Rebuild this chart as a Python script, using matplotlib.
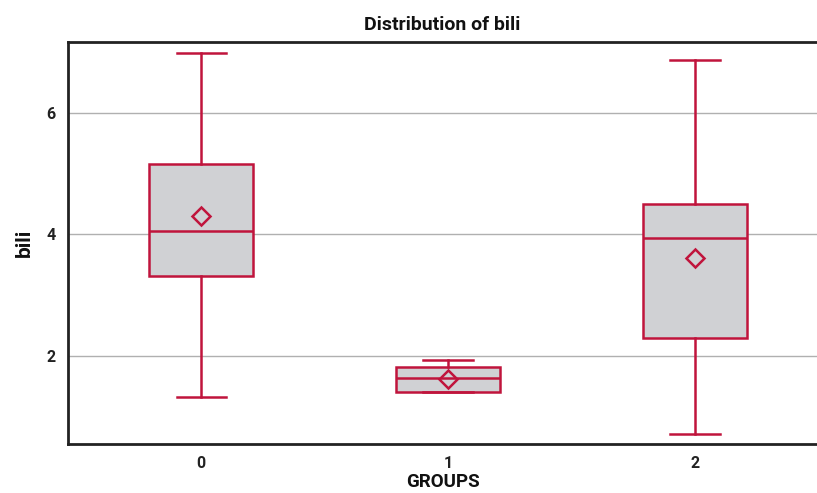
import matplotlib
matplotlib.use("Agg")
import matplotlib.pyplot as plt

plt.rcParams['font.family'] = ['Roboto', 'DejaVu Sans']

groups = ["0", "1", "2"]
whislo = [1.33, 1.41, 0.72]
q1 = [3.31, 1.41, 2.30]
med = [4.05, 1.64, 3.95]
q3 = [5.16, 1.82, 4.51]
whishi = [6.99, 1.93, 6.87]
means = [4.31, 1.62, 3.61]

RED = "#C0143C"
FILL = "#D0D1D4"

stats = []
for i, g in enumerate(groups):
    stats.append(dict(label=g, whislo=whislo[i], q1=q1[i], med=med[i],
                      q3=q3[i], whishi=whishi[i], mean=means[i]))

fig = plt.figure(figsize=(8.17, 4.93), dpi=100)
ax = fig.add_axes([0.0832, 0.0994, 0.9168, 0.8154])

ax.bxp(stats, positions=[0, 1, 2], widths=0.42, patch_artist=True,
       showmeans=True, showfliers=False,
       boxprops=dict(facecolor=FILL, edgecolor=RED, linewidth=1.8),
       medianprops=dict(color=RED, linewidth=1.8),
       whiskerprops=dict(color=RED, linewidth=1.8),
       capprops=dict(color=RED, linewidth=1.8),
       capwidths=0.2,
       meanprops=dict(marker='D', markerfacecolor='none', markeredgecolor=RED,
                      markeredgewidth=1.8, markersize=9))

ax.set_xlim(-0.54, 2.494)
ax.set_ylim(0.551, 7.169)
ax.set_yticks([2, 4, 6])
ax.yaxis.grid(True, color="#b0b0b0", linewidth=1.0)
ax.set_axisbelow(True)
ax.tick_params(length=0, labelsize=11.5, pad=9)
for lab in ax.get_xticklabels() + ax.get_yticklabels():
    lab.set_fontweight('bold')
    lab.set_color('#222222')

for s in ['top', 'left', 'bottom']:
    ax.spines[s].set_color('#222222')
    ax.spines[s].set_linewidth(2)
ax.spines['right'].set_visible(False)

ax.set_title("Distribution of bili", fontsize=14, fontweight='bold', pad=9, color='#111111')
ax.set_xlabel("GROUPS", fontsize=13.5, fontweight='bold', labelpad=1, color='#111111')
ax.set_ylabel("bili", fontsize=15, fontweight='bold', labelpad=9, color='#111111')

fig.savefig("out.png", dpi=100)
